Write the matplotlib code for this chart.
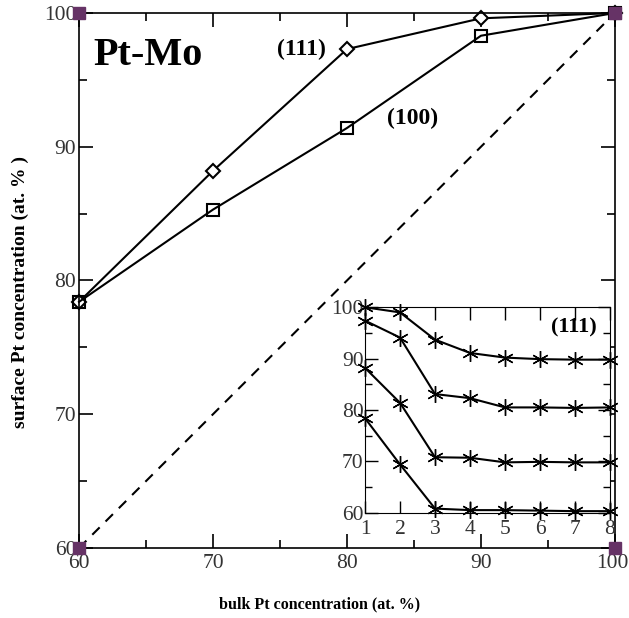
import matplotlib.pyplot as plt
from matplotlib.ticker import MultipleLocator
from matplotlib.transforms import ScaledTranslation

plt.rcParams['font.family'] = ['Liberation Serif', 'DejaVu Serif']

bulk = [60, 70, 80, 90, 100]
surf_111 = [78.4, 88.2, 97.3, 99.6, 100.0]
surf_100 = [78.4, 85.3, 91.4, 98.3, 100.0]
diag = [60, 100]
corner_x = [60, 60, 100, 100]
corner_y = [60, 100, 60, 100]
xticks = [60, 70, 80, 90, 100]
xtick_labels = ['60', '70', '80', '90', '100']

# inset: (111) layers
layers = [1, 2, 3, 4, 5, 6, 7, 8]
inset_a = [100.0, 99.0, 93.7, 91.1, 90.2, 89.9, 89.8, 89.8]
inset_b = [97.4, 94.1, 83.1, 82.3, 80.5, 80.5, 80.4, 80.5]
inset_c = [88.2, 81.4, 70.8, 70.7, 69.8, 69.9, 69.8, 69.8]
inset_d = [78.4, 69.4, 60.8, 60.5, 60.5, 60.4, 60.3, 60.3]

fig = plt.figure(figsize=(6.29, 6.18), dpi=100)
ax = fig.add_axes([0.1256, 0.1133, 0.8521, 0.8657])

ax.plot(diag, diag, 'k--', lw=1.5, dashes=(5, 4))
ax.plot(bulk, surf_111, 'k-', lw=1.5, marker='D', ms=7, mfc='white', mec='black', mew=1.5, clip_on=False)
ax.plot(bulk, surf_100, 'k-', lw=1.5, marker='s', ms=9, mfc='none', mec='black', mew=1.5, clip_on=False)
ax.plot(corner_x, corner_y, ls='none', marker='s', ms=8, color='#663366', clip_on=False, zorder=5)

ax.set_xlim(60, 100)
ax.set_ylim(60, 100)
# last label is drawn separately, nudged left so it stays inside the figure
ax.set_xticks(xticks, xtick_labels[:-1] + [''])
ax.xaxis.set_minor_locator(MultipleLocator(5))
ax.yaxis.set_major_locator(MultipleLocator(10))
ax.yaxis.set_minor_locator(MultipleLocator(5))
ax.tick_params(which='both', direction='in', top=True, right=True, labelsize=15.5, labelcolor='#333333')
ax.tick_params(which='major', length=10, width=1.2)
ax.tick_params(which='minor', length=6, width=1.2)
ax.tick_params(axis='x', pad=4)
ax.tick_params(axis='y', pad=2)
for s in ax.spines.values():
    s.set_linewidth(1.2)

shift = ScaledTranslation(-3 / 100, -4 / 72, fig.dpi_scale_trans)
ax.text(xticks[-1], 0, xtick_labels[-1], transform=ax.get_xaxis_transform() + shift,
        fontsize=15.5, color='#333333', ha='center', va='top')

fig.text(320 / 629, 1 - 604 / 618, 'bulk Pt concentration (at. %)', fontsize=11.5,
         fontweight='bold', ha='center', va='center')
fig.text(20 / 629, 1 - 292 / 618, 'surface Pt concentration (at. % )', fontsize=14,
         fontweight='bold', ha='center', va='center', rotation=90)

ax.text(61.1, 96.8, 'Pt-Mo', fontsize=29, fontweight='bold', va='center')
ax.text(74.8, 97.3, '(111)', fontsize=17, fontweight='bold', va='center')
ax.text(83.0, 92.15, '(100)', fontsize=17, fontweight='bold', va='center')

ins = fig.add_axes([0.5803, 0.1704, 0.3895, 0.3324])
for ys in (inset_a, inset_b, inset_c, inset_d):
    ins.plot(layers, ys, 'k-', lw=1.5, marker=(6, 2, 0), ms=12, mew=1.0, clip_on=False)
ins.set_xlim(1, 8)
ins.set_ylim(60, 100)
ins.xaxis.set_major_locator(MultipleLocator(1))
ins.yaxis.set_major_locator(MultipleLocator(10))
ins.yaxis.set_minor_locator(MultipleLocator(5))
ins.tick_params(which='both', direction='in', top=True, right=True, labelsize=15.5,
                labelcolor='#333333')
ins.tick_params(axis='y', pad=1)
ins.tick_params(axis='x', pad=5)
ins.tick_params(which='major', length=9, width=1.0)
ins.tick_params(which='minor', length=5, width=1.0)
ins.text(7.63, 96.0, '(111)', fontsize=16, fontweight='bold', ha='right', va='center')

plt.savefig('out.png', dpi=100)
